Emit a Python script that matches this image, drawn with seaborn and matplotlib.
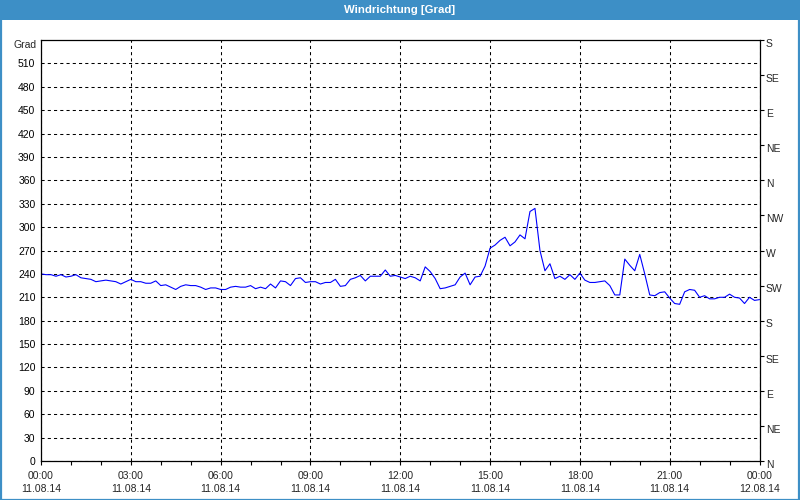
import matplotlib
matplotlib.use("Agg")
import matplotlib.pyplot as plt
import matplotlib.dates as mdates
import matplotlib.transforms as mtransforms
from matplotlib.patches import Rectangle
import seaborn as sns
import pandas as pd

# ---------------- data ----------------
title = "Windrichtung [Grad]"
unit_label = "Grad"
start_time = "2014-08-11 00:00"
end_time = "2014-08-12 00:00"
sample_step = "10min"
direction = [
    240, 239, 239, 237, 239, 236, 237, 239, 235, 234, 233, 230, 231, 232, 231, 230,
    227, 230, 233, 230, 230, 228, 228, 231, 225, 226, 223, 220, 224, 226, 225, 225,
    223, 220, 222, 222, 220,
    220, 223, 224, 223, 223, 225, 221, 223, 221, 227, 222, 231, 230, 225, 234, 235,
    229, 230, 230, 227, 229, 229, 233, 224, 225, 233, 235, 238, 231, 237, 237, 237,
    245, 237, 238, 236,
    234, 237, 235, 231, 249, 243, 234, 221, 222, 224, 226, 236, 241, 226, 236, 237,
    250, 273, 277, 283, 287, 276, 281, 290, 285, 320, 324, 270, 244, 253, 234, 237,
    233, 239, 233, 241,
    232, 229, 229, 230, 231, 225, 213, 213, 259, 251, 244, 265, 240, 213, 212, 216,
    217, 209, 202, 201, 217, 220, 219, 210, 212, 208, 208, 210, 210, 214, 210, 209,
    202, 210, 206, 207,
]
left_ticks = list(range(0, 511, 30))
right_ticks = list(range(0, 541, 45))
right_labels = ["N", "NE", "E", "SE", "S", "SW", "W", "NW", "N", "NE", "E", "SE", "S"]

times = pd.date_range(start_time, periods=len(direction), freq=sample_step)
df = pd.DataFrame({"time": times, "deg": direction})

# ---------------- style ----------------
sns.set_theme(style="white")
plt.rcParams["font.family"] = ["Liberation Sans", "DejaVu Sans"]
plt.rcParams["font.size"] = 7.5

blue_bar = "#3d8fc6"
fig = plt.figure(figsize=(8, 5), dpi=100)
fig.patch.set_facecolor("white")

W, H = 800.0, 500.0
x0, x1, y0, y1 = 41, 759.5, 40, 461
ax = fig.add_axes([x0 / W, 1 - y1 / H, (x1 - x0) / W, (y1 - y0) / H])
ax.set_facecolor("white")

sns.lineplot(data=df, x="time", y="deg", ax=ax, color="#0000ff", linewidth=0.8)

ax.set_xlim(pd.Timestamp(start_time), pd.Timestamp(end_time))
ax.set_ylim(0, 540)
ax.set_xlabel("")
ax.set_ylabel("")

ax.set_yticks(left_ticks)
ax.set_yticklabels([str(v) for v in left_ticks])
ax.tick_params(axis="y", which="both", length=0, pad=4, labelsize=7.5, colors="black")

ax.xaxis.set_major_locator(mdates.HourLocator(byhour=range(0, 24, 3)))
ax.xaxis.set_minor_locator(mdates.HourLocator())
ax.xaxis.set_major_formatter(mdates.DateFormatter("%H:%M\n%d.%m.%y"))
ax.tick_params(axis="x", which="both", direction="out", length=3, width=0.8,
               color="black", bottom=True, pad=4, labelsize=7.5)
for lbl in ax.get_xticklabels():
    lbl.set_linespacing(1.45)

ax.grid(True, which="major", axis="both", color="black", linestyle=(0, (3, 3)),
        linewidth=0.75)
for s in ax.spines.values():
    s.set_color("black")
    s.set_linewidth(0.9)

ax2 = ax.twinx()
ax2.set_ylim(0, 540)
ax2.set_yticks(right_ticks)
ax2.set_yticklabels(right_labels)
ax2.tick_params(axis="y", direction="out", length=3, width=0.8, color="black",
                pad=1.5, labelsize=7.5)
ax2.grid(False)
for s in ax2.spines.values():
    s.set_visible(False)
offset = mtransforms.ScaledTranslation(0, -2 / 72, fig.dpi_scale_trans)
for lbl in ax2.get_yticklabels():
    lbl.set_transform(lbl.get_transform() + offset)

fig.text(37 / W, 1 - 45 / H, unit_label, ha="right", va="center", fontsize=7.5)

# title band and border
fig.patches.append(Rectangle((0, 1 - 20 / H), 1, 20 / H, transform=fig.transFigure,
                             facecolor=blue_bar, edgecolor="none", zorder=0))
fig.patches.append(Rectangle((0.5 / W, 0.5 / H), 1 - 1.5 / W, 1 - 1.5 / H,
                             transform=fig.transFigure, facecolor="none",
                             edgecolor=blue_bar, linewidth=1.6, zorder=5))
fig.text(0.5, 1 - 10 / H, title, ha="center", va="center", color="white",
         fontsize=8.2, fontweight="bold")

fig.savefig("out.png", dpi=100, facecolor=fig.get_facecolor())
